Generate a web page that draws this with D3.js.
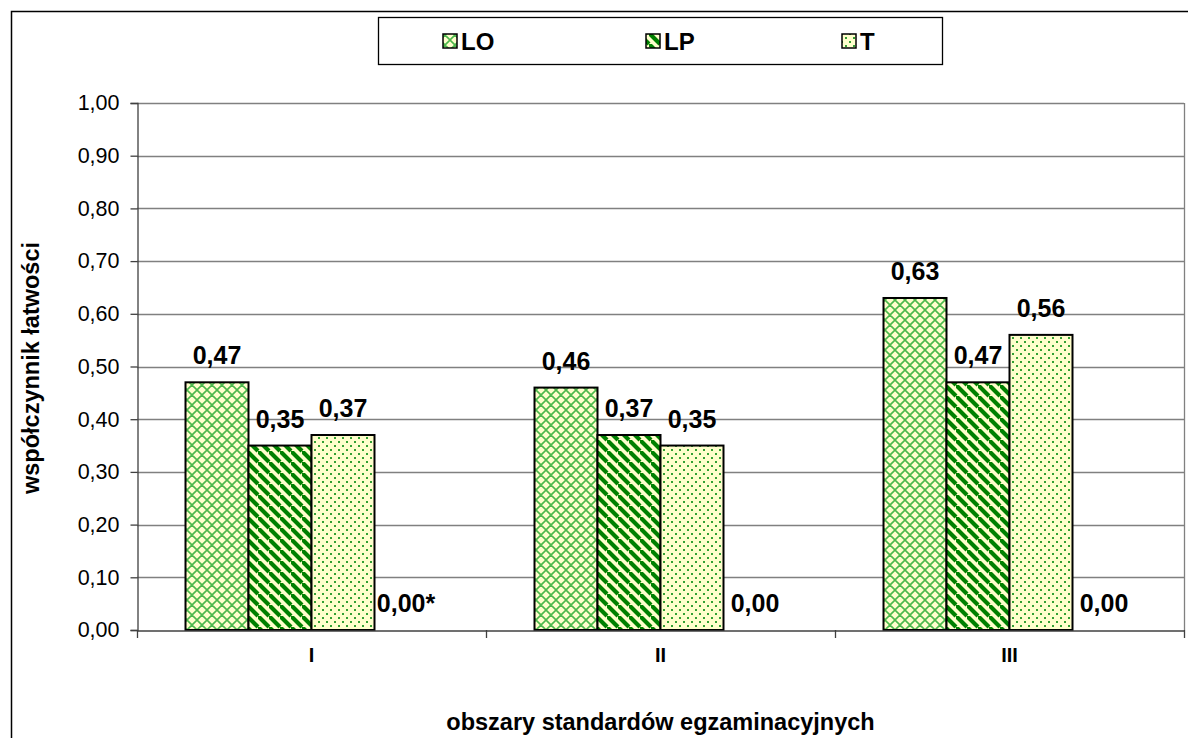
<!DOCTYPE html>
<html><head><meta charset="utf-8">
<script src="https://cdn.jsdelivr.net/npm/d3@7"></script>
<style>body{margin:0;background:#fff}svg{display:block;font-family:"Liberation Sans",Arial,sans-serif}</style>
</head><body><svg id="c" width="1188" height="738"></svg>
<script>
const categories = ["I", "II", "III"];
const seriesNames = ["LO", "LP", "T", "X"];
const valuesLO = [0.47, 0.46, 0.63];
const valuesLP = [0.35, 0.37, 0.47];
const valuesT = [0.37, 0.35, 0.56];
const valuesX = [0.00, 0.00, 0.00];
const labelsX = ["0,00*", "0,00", "0,00"];
const yTicks = [0, 0.1, 0.2, 0.3, 0.4, 0.5, 0.6, 0.7, 0.8, 0.9, 1.0];
const legendNames = ["LO", "LP", "T"];

const allValues = [valuesLO, valuesLP, valuesT, valuesX];
const fmt = v => d3.format(".2f")(v).replace(".", ",");

const svg = d3.select("#c");
const L = 137, R = 1184, T = 103, B = 630;

// outer frame
svg.append("rect").attr("x", 11.5).attr("y", 11.5).attr("width", 1200).attr("height", 800)
  .attr("fill", "none").attr("stroke", "#000").attr("stroke-width", 1.5);

// patterns
const defs = svg.append("defs");
const yellow = "#FFFFCC";
let p = defs.append("pattern").attr("id", "pLO").attr("patternUnits", "userSpaceOnUse").attr("width", 10).attr("height", 10);
p.append("rect").attr("width", 10).attr("height", 10).attr("fill", yellow);
p.append("path").attr("d", "M0,0L10,10M10,0L0,10M-5,5L5,15M5,-5L15,5M5,15L15,5M-5,5L5,-5").attr("stroke", "#4CB84C").attr("stroke-width", 1.6);
p = defs.append("pattern").attr("id", "pLP").attr("patternUnits", "userSpaceOnUse").attr("width", 11).attr("height", 11);
p.append("rect").attr("width", 11).attr("height", 11).attr("fill", yellow);
p.append("path").attr("d", "M0,0L11,11M-11,0L0,11M0,-11L11,0").attr("stroke", "#008000").attr("stroke-width", 4.2);
p = defs.append("pattern").attr("id", "pT").attr("patternUnits", "userSpaceOnUse").attr("width", 8).attr("height", 8);
p.append("rect").attr("width", 8).attr("height", 8).attr("fill", yellow);
p.append("rect").attr("x", 1).attr("y", 1).attr("width", 2).attr("height", 2).attr("fill", "#33A033");
p.append("rect").attr("x", 5).attr("y", 5).attr("width", 2).attr("height", 2).attr("fill", "#33A033");
const fills = ["url(#pLO)", "url(#pLP)", "url(#pT)", "none"];

const y = d3.scaleLinear().domain([0, 1]).range([B, T]);
const x0 = d3.scaleBand().domain(categories).range([L, R]).paddingInner(0).paddingOuter(0);
const x1 = d3.scaleBand().domain(seriesNames).range([0, x0.bandwidth()]).paddingInner(0).paddingOuter(0.77);

// gridlines
svg.append("g").selectAll("line").data(yTicks.slice(1)).join("line")
  .attr("x1", L).attr("x2", R).attr("y1", d => Math.round(y(d)) + 0.5).attr("y2", d => Math.round(y(d)) + 0.5)
  .attr("stroke", "#808080").attr("stroke-width", 1.3);
svg.append("line").attr("x1", R + 0.5).attr("x2", R + 0.5).attr("y1", T).attr("y2", B).attr("stroke", "#808080").attr("stroke-width", 1.3);

// y axis
const yAxis = d3.axisLeft(y).tickValues(yTicks).tickFormat(fmt).tickSize(7).tickPadding(11);
const gy = svg.append("g").attr("transform", `translate(${L + 0.5},0)`).call(yAxis);
gy.select(".domain").attr("stroke", "#404040").attr("stroke-width", 1.3);
gy.selectAll(".tick line").attr("stroke", "#404040").attr("stroke-width", 1.3);
gy.selectAll("text").attr("font-size", 21.5).attr("fill", "#000").attr("font-family", "Liberation Sans, Arial");

// bars
categories.forEach((c, ci) => {
  const g = svg.append("g").attr("transform", `translate(${x0(c)},0)`);
  seriesNames.forEach((s, si) => {
    const v = allValues[si][ci];
    if (v > 0) {
      g.append("rect").attr("x", x1(s)).attr("y", y(v)).attr("width", x1.bandwidth()).attr("height", y(0) - y(v))
        .attr("fill", fills[si]).attr("stroke", "#000").attr("stroke-width", 2);
    }
    const lbl = si === 3 ? labelsX[ci] : fmt(v);
    g.append("text").attr("x", x1(s) + x1.bandwidth() / 2).attr("y", y(v) - 18)
      .attr("text-anchor", "middle").attr("font-size", 25).attr("font-weight", "bold").text(lbl);
  });
});

// x axis
const xAxis = d3.axisBottom(x0).tickSize(0).tickPadding(17);
const gx = svg.append("g").attr("transform", `translate(0,${B + 0.5})`).call(xAxis);
gx.select(".domain").attr("stroke", "#404040").attr("stroke-width", 1.5);
gx.selectAll("text").attr("font-size", 20).attr("font-weight", "bold").attr("fill", "#000").attr("font-family", "Liberation Sans, Arial");
const bounds = categories.map(c => x0(c)).concat([R]);
svg.append("g").selectAll("line").data(bounds).join("line")
  .attr("x1", d => d + 0.5).attr("x2", d => d + 0.5).attr("y1", B).attr("y2", B + 8)
  .attr("stroke", "#404040").attr("stroke-width", 1.3);

// axis titles
svg.append("text").attr("x", (L + R) / 2).attr("y", 730).attr("text-anchor", "middle")
  .attr("font-size", 23.5).attr("font-weight", "bold").text("obszary standardów egzaminacyjnych");
svg.append("text").attr("transform", "translate(39,368) rotate(-90)").attr("text-anchor", "middle")
  .attr("font-size", 23.5).attr("font-weight", "bold").text("współczynnik łatwości");

// legend
svg.append("rect").attr("x", 378.5).attr("y", 17.5).attr("width", 564).attr("height", 47)
  .attr("fill", "#fff").attr("stroke", "#000").attr("stroke-width", 1.3);
const legX = [443, 646, 842];
legendNames.forEach((n, i) => {
  svg.append("rect").attr("x", legX[i]).attr("y", 34).attr("width", 14).attr("height", 14)
    .attr("fill", fills[i]).attr("stroke", "#000").attr("stroke-width", 1.5);
  svg.append("text").attr("x", legX[i] + 18).attr("y", 50).attr("font-size", 24).attr("font-weight", "bold").text(n);
});
</script></body></html>
